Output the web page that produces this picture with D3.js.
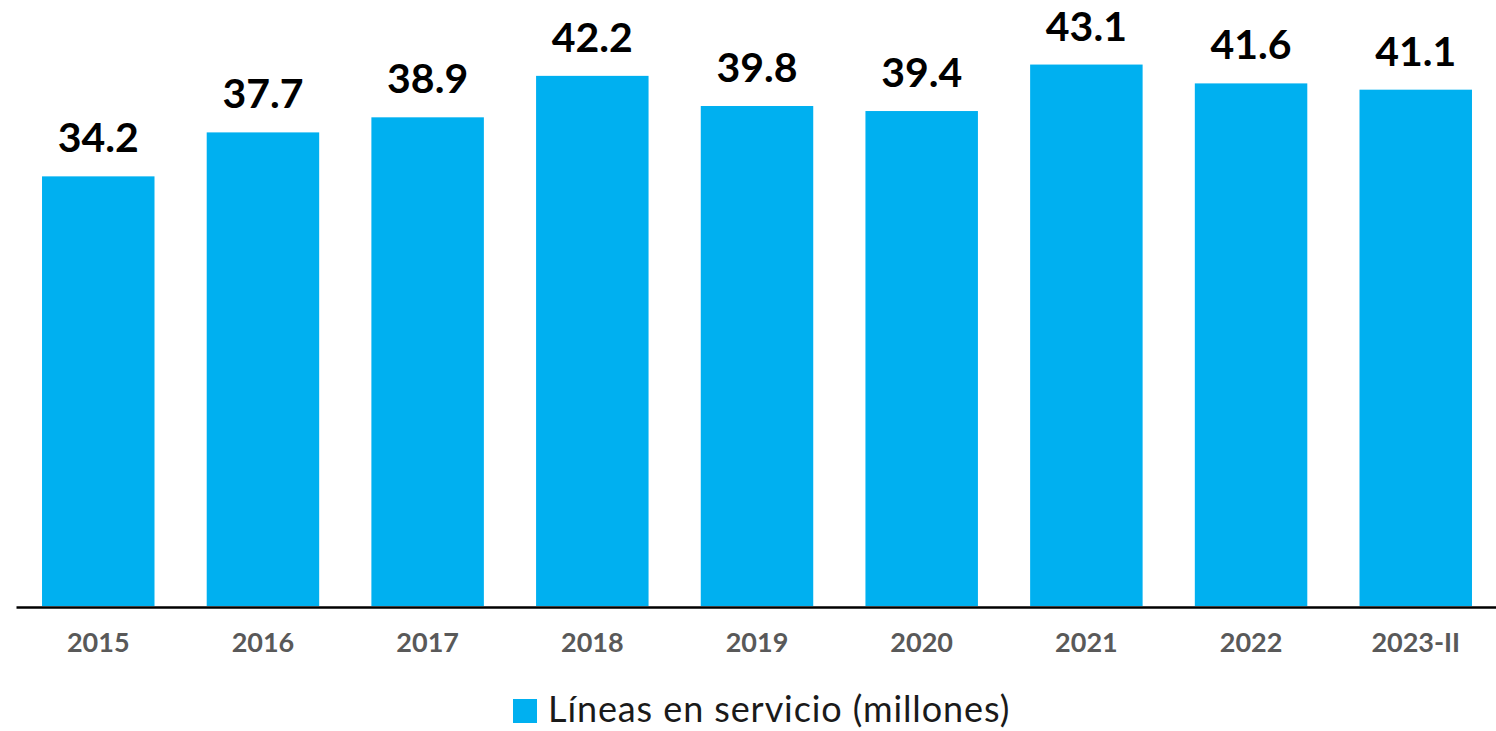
<html>
<head>
  <script src="https://d3js.org/d3.v7.min.js"></script>
  <style>
    body { margin: 0; background: white; }
    .axis .domain { stroke: #000; stroke-width: 2.4px; }
    .axis text { font-family: Lato, sans-serif; font-weight: 700; font-size: 27px; fill: #595959; }
    .value { font-family: Lato, sans-serif; font-weight: 700; font-size: 41px; fill: #000; }
    .legend text { font-family: Lato, sans-serif; font-size: 36px; letter-spacing: 0.9px; fill: #1a1a1a; }
  </style>
</head>
<body>
  <svg id="chart" width="1496" height="731"></svg>
  <script>
    // data
    const years = ["2015", "2016", "2017", "2018", "2019", "2020", "2021", "2022", "2023-II"];
    const lineas = [34.2, 37.7, 38.9, 42.2, 39.8, 39.4, 43.1, 41.6, 41.1];
    const seriesName = "Líneas en servicio (millones)";

    const data = years.map((y, i) => ({year: y, value: lineas[i]}));

    const svg = d3.select("#chart");
    const baseY = 606;

    const x = d3.scaleBand().domain(years).range([16, 1498])
                .paddingInner(0.317).paddingOuter(0.158);
    const y = d3.scaleLinear().domain([0, 48]).range([baseY, 3]);

    svg.selectAll("rect.bar").data(data)
       .join("rect")
       .attr("class", "bar")
       .attr("x", d => x(d.year))
       .attr("y", d => y(d.value))
       .attr("width", x.bandwidth())
       .attr("height", d => baseY - y(d.value))
       .attr("fill", "#00B0F0");

    svg.selectAll("text.value").data(data)
       .join("text")
       .attr("class", "value")
       .attr("x", d => x(d.year) + x.bandwidth() / 2)
       .attr("y", d => y(d.value) - 24)
       .attr("text-anchor", "middle")
       .text(d => d.value.toFixed(1));

    const axis = svg.append("g")
       .attr("class", "axis")
       .attr("transform", `translate(0,${baseY + 1})`)
       .call(d3.axisBottom(x).tickSize(0).tickSizeOuter(0).tickPadding(0));
    axis.selectAll("text").attr("dy", null).attr("y", 45);

    // legend
    const legend = svg.append("g").attr("class", "legend");
    legend.append("rect")
          .attr("x", 513).attr("y", 699)
          .attr("width", 24).attr("height", 24)
          .attr("fill", "#00B0F0");
    legend.append("text")
          .attr("x", 548).attr("y", 722)
          .text(seriesName);
  </script>
</body>
</html>
